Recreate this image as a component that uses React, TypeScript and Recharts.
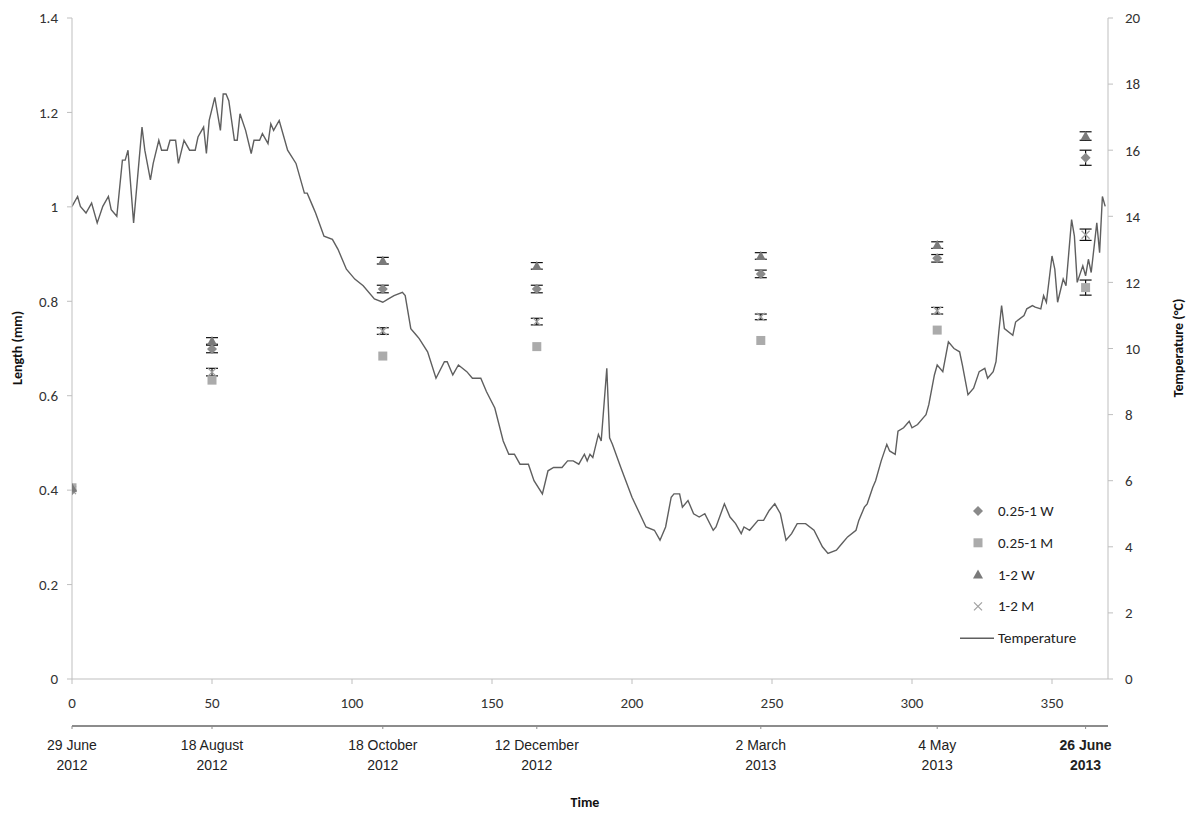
import React from "react"
import {
  ComposedChart,
  Line,
  Scatter,
  ErrorBar,
  XAxis,
  YAxis,
  Legend,
  Label,
} from "recharts"

// sampling days (days since 29 June 2012)
const sampleDays = [0, 50, 111, 166, 246, 309, 362]

// mean length (mm) per group
const w025 = [0.4, 0.699, 0.826, 0.826, 0.858, 0.891, 1.104]
const m025 = [0.405, 0.633, 0.684, 0.704, 0.717, 0.739, 0.829]
const w12 = [0.405, 0.716, 0.886, 0.875, 0.896, 0.919, 1.15]
const m12 = [0.4, 0.65, 0.737, 0.757, 0.767, 0.78, 0.941]

// standard errors
const w025Err = [null, 0.008, 0.008, 0.008, 0.008, 0.008, 0.016]
const m025Err = [null, null, null, null, null, null, 0.016]
const w12Err = [null, 0.007, 0.007, 0.007, 0.007, 0.007, 0.009]
const m12Err = [null, 0.008, 0.007, 0.007, 0.006, 0.007, 0.012]

// water temperature (°C)
const tempDays = [
  0, 2, 3, 5, 7, 9, 11, 13, 14, 16, 18, 19, 20, 22, 25, 26, 28, 29, 31, 32,
  34, 35, 37, 38, 40, 42, 44, 45, 47, 48, 49, 51, 53, 54, 55, 56, 58, 59, 60, 62,
  64, 65, 67, 68, 70, 71, 72, 74, 77, 80, 83, 84, 86, 87, 90, 93, 95, 98, 101, 104,
  108, 111, 113, 115, 118, 119, 121, 123, 124, 127, 130, 133, 134, 136, 138, 141, 143, 146, 148, 151,
  154, 156, 158, 160, 163, 165, 168, 170, 172, 175, 177, 179, 181, 183, 184, 185, 186, 188, 189, 191,
  192, 193, 196, 200, 205, 208, 210, 212, 214, 215, 217, 218, 220, 222, 224, 226, 229, 230, 233, 235,
  237, 239, 240, 242, 245, 247, 249, 251, 253, 255, 257, 259, 262, 265, 268, 270, 273, 275, 277, 280,
  281, 283, 284, 286, 287, 289, 291, 292, 294, 295, 297, 299, 300, 302, 304, 305, 306, 308, 309, 311,
  313, 315, 317, 318, 320, 322, 324, 326, 327, 329, 330, 331, 332, 333, 336, 337, 340, 341, 343, 344,
  346, 347, 348, 350, 351, 352, 354, 355, 356, 357, 358, 359, 361, 362, 363, 364, 366, 367, 368, 369,
]
const tempValues = [
  14.3, 14.6, 14.3, 14.1, 14.4, 13.8, 14.3, 14.6, 14.2, 14.0, 15.7, 15.7, 16.0, 13.8, 16.7, 16.0, 15.1, 15.6, 16.3, 16.0,
  16.0, 16.3, 16.3, 15.6, 16.3, 16.0, 16.0, 16.4, 16.7, 15.9, 16.9, 17.6, 16.6, 17.7, 17.7, 17.5, 16.3, 16.3, 17.1, 16.6,
  15.9, 16.3, 16.3, 16.5, 16.2, 16.8, 16.6, 16.9, 16.0, 15.6, 14.7, 14.7, 14.3, 14.1, 13.4, 13.3, 13.0, 12.4, 12.1, 11.9,
  11.5, 11.4, 11.5, 11.6, 11.7, 11.6, 10.6, 10.4, 10.3, 9.9, 9.1, 9.6, 9.6, 9.2, 9.5, 9.3, 9.1, 9.1, 8.7, 8.2,
  7.2, 6.8, 6.8, 6.5, 6.5, 6.0, 5.6, 6.3, 6.4, 6.4, 6.6, 6.6, 6.5, 6.8, 6.6, 6.8, 6.7, 7.4, 7.2, 9.4,
  7.3, 7.1, 6.4, 5.5, 4.6, 4.5, 4.2, 4.6, 5.5, 5.6, 5.6, 5.2, 5.4, 5.0, 4.9, 5.0, 4.5, 4.6, 5.3, 4.9,
  4.7, 4.4, 4.6, 4.5, 4.8, 4.8, 5.1, 5.3, 5.0, 4.2, 4.4, 4.7, 4.7, 4.5, 4.0, 3.8, 3.9, 4.1, 4.3, 4.5,
  4.8, 5.2, 5.3, 5.8, 6.0, 6.6, 7.1, 6.9, 6.8, 7.5, 7.6, 7.8, 7.6, 7.7, 7.9, 8.0, 8.3, 9.2, 9.5, 9.3,
  10.2, 10.0, 9.9, 9.5, 8.6, 8.8, 9.3, 9.4, 9.1, 9.3, 9.6, 10.5, 11.3, 10.6, 10.4, 10.8, 11.0, 11.2, 11.3, 11.25,
  11.2, 11.6, 11.4, 12.8, 12.4, 11.4, 12.1, 11.9, 12.9, 13.9, 13.4, 12.0, 12.5, 12.2, 12.7, 12.3, 13.8, 12.9, 14.6, 14.3,
]

const xTicks = [0, 50, 100, 150, 200, 250, 300, 350]
const leftTicks = [0, 0.2, 0.4, 0.6, 0.8, 1, 1.2, 1.4]
const rightTicks = [0, 2, 4, 6, 8, 10, 12, 14, 16, 18, 20]

const dateLabels = [
  ["29 June", "2012"],
  ["18 August", "2012"],
  ["18 October", "2012"],
  ["12 December", "2012"],
  ["2 March", "2013"],
  ["4 May", "2013"],
  ["26 June", "2013"],
]

const seriesNames = ["0.25-1 W", "0.25-1 M", "1-2 W", "1-2 M", "Temperature"]

const toPoints = (vals: number[], errs: (number | null)[]) =>
  sampleDays.map((d, i) => ({ day: d, len: vals[i], err: errs[i] }))

const tempData = tempDays.map((d, i) => ({ day: d, temp: tempValues[i] }))
const dateAnchors = sampleDays.map((d) => ({ day: d, len: 0 }))

const numFont = "Carlito, Lato, sans-serif"
const dateFont = "'Liberation Sans', Arial, sans-serif"

const Diamond = (p: any) => (
  <polygon
    points={`${p.cx},${p.cy - 5} ${p.cx + 5},${p.cy} ${p.cx},${p.cy + 5} ${p.cx - 5},${p.cy}`}
    fill="#8a8a8a"
  />
)
const Square = (p: any) => (
  <rect x={p.cx - 4.5} y={p.cy - 4.5} width={9} height={9} fill="#ababab" />
)
const Triangle = (p: any) => (
  <polygon
    points={`${p.cx},${p.cy - 5} ${p.cx + 5},${p.cy + 4} ${p.cx - 5},${p.cy + 4}`}
    fill="#7a7a7a"
  />
)
const XMark = (p: any) => (
  <g stroke="#a0a0a0" strokeWidth={1.3}>
    <line x1={p.cx - 4} y1={p.cy - 4} x2={p.cx + 4} y2={p.cy + 4} />
    <line x1={p.cx - 4} y1={p.cy + 4} x2={p.cx + 4} y2={p.cy - 4} />
  </g>
)
const NoMark = () => <g />

const DateTick = (props: any) => {
  const { x, y, index } = props
  const lbl = dateLabels[index] || ["", ""]
  const last = index === dateLabels.length - 1
  return (
    <text
      x={x}
      y={y}
      textAnchor="middle"
      fontFamily={dateFont}
      fontSize={14}
      fontWeight={last ? "bold" : "normal"}
      fill="#222"
    >
      <tspan x={x} dy={19}>{lbl[0]}</tspan>
      <tspan x={x} dy={20}>{lbl[1]}</tspan>
    </text>
  )
}

const LegendBox = () => {
  const rows = [0, 1, 2, 3, 4]
  return (
    <svg width={170} height={160}>
      {rows.map((i) => {
        const cy = 16 + i * 31.8
        const p = { cx: 20, cy }
        let mark
        if (i === 0) mark = <Diamond {...p} />
        else if (i === 1) mark = <Square {...p} />
        else if (i === 2) mark = <Triangle {...p} />
        else if (i === 3) mark = <XMark {...p} />
        else mark = <line x1={2} y1={cy} x2={36} y2={cy} stroke="#5f5f5f" strokeWidth={1.5} />
        return (
          <g key={i}>
            {mark}
            <text x={40} y={cy + 5} fontFamily={numFont} fontSize={15} fill="#222">
              {seriesNames[i]}
            </text>
          </g>
        )
      })}
    </svg>
  )
}

export default function App() {
  const tickStyle = { fontFamily: numFont, fontSize: 15, fill: "#333" }
  return (
    <ComposedChart
      width={1187}
      height={806}
      margin={{ top: 10, right: 7, bottom: 0, left: 4 }}
    >
      <XAxis
        xAxisId="a"
        type="number"
        dataKey="day"
        domain={[0, 370]}
        ticks={xTicks}
        allowDataOverflow
        height={47}
        stroke="#bfbfbf"
        tickSize={5}
        tickMargin={13}
        tick={tickStyle}
      />
      <XAxis
        xAxisId="b"
        type="number"
        dataKey="day"
        domain={[0, 370]}
        ticks={sampleDays}
        allowDataOverflow
        height={88}
        axisLine={{ stroke: "#8c8c8c", strokeWidth: 2 }}
        tickLine={{ stroke: "#8c8c8c" }}
        tickSize={3}
        tickMargin={2}
        tick={<DateTick />}
      >
        <Label
          content={() => (
            <text
              x={577}
              y={799}
              textAnchor="middle"
              fontFamily={numFont}
              fontSize={14}
              fontWeight="bold"
              fill="#111"
            >
              Time
            </text>
          )}
        />
      </XAxis>
      <YAxis
        yAxisId="left"
        type="number"
        domain={[0, 1.4]}
        ticks={leftTicks}
        width={60}
        stroke="#bfbfbf"
        tickSize={5}
        tickMargin={9}
        tick={tickStyle}
        tickFormatter={(v: number) => String(v)}
      >
        <Label
          content={() => (
            <text
              x={14}
              y={340}
              transform="rotate(-90, 14, 340)"
              textAnchor="middle"
              fontFamily={numFont}
              fontSize={14}
              fontWeight="bold"
              fill="#111"
            >
              Length (mm)
            </text>
          )}
        />
      </YAxis>
      <YAxis
        yAxisId="right"
        orientation="right"
        type="number"
        domain={[0, 20]}
        ticks={rightTicks}
        width={80}
        stroke="#bfbfbf"
        tickSize={5}
        tickMargin={12}
        tick={tickStyle}
      >
        <Label
          content={() => (
            <text
              x={1175}
              y={340}
              transform="rotate(-90, 1175, 340)"
              textAnchor="middle"
              fontFamily={numFont}
              fontSize={14}
              fontWeight="bold"
              fill="#111"
            >
              Temperature (°C)
            </text>
          )}
        />
      </YAxis>
      <Scatter
        xAxisId="b"
        yAxisId="left"
        data={dateAnchors}
        dataKey="len"
        shape={NoMark}
        legendType="none"
        isAnimationActive={false}
      />
      <Line
        xAxisId="a"
        yAxisId="right"
        data={tempData}
        dataKey="temp"
        type="linear"
        stroke="#5f5f5f"
        strokeWidth={1.4}
        dot={false}
        activeDot={false}
        isAnimationActive={false}
      />
      <Scatter
        xAxisId="a"
        yAxisId="left"
        data={toPoints(m025, m025Err)}
        dataKey="len"
        shape={Square}
        isAnimationActive={false}
      >
        <ErrorBar dataKey="err" direction="y" width={6} stroke="#111" strokeWidth={1.2} />
      </Scatter>
      <Scatter
        xAxisId="a"
        yAxisId="left"
        data={toPoints(m12, m12Err)}
        dataKey="len"
        shape={XMark}
        isAnimationActive={false}
      >
        <ErrorBar dataKey="err" direction="y" width={6} stroke="#111" strokeWidth={1.2} />
      </Scatter>
      <Scatter
        xAxisId="a"
        yAxisId="left"
        data={toPoints(w025, w025Err)}
        dataKey="len"
        shape={Diamond}
        isAnimationActive={false}
      >
        <ErrorBar dataKey="err" direction="y" width={6} stroke="#111" strokeWidth={1.2} />
      </Scatter>
      <Scatter
        xAxisId="a"
        yAxisId="left"
        data={toPoints(w12, w12Err)}
        dataKey="len"
        shape={Triangle}
        isAnimationActive={false}
      >
        <ErrorBar dataKey="err" direction="y" width={6} stroke="#111" strokeWidth={1.2} />
      </Scatter>
      <Legend
        layout="vertical"
        align="center"
        verticalAlign="middle"
        content={<LegendBox />}
        wrapperStyle={{ position: "absolute", left: 950, top: 487, width: 170, height: 160 }}
      />
    </ComposedChart>
  )
}
